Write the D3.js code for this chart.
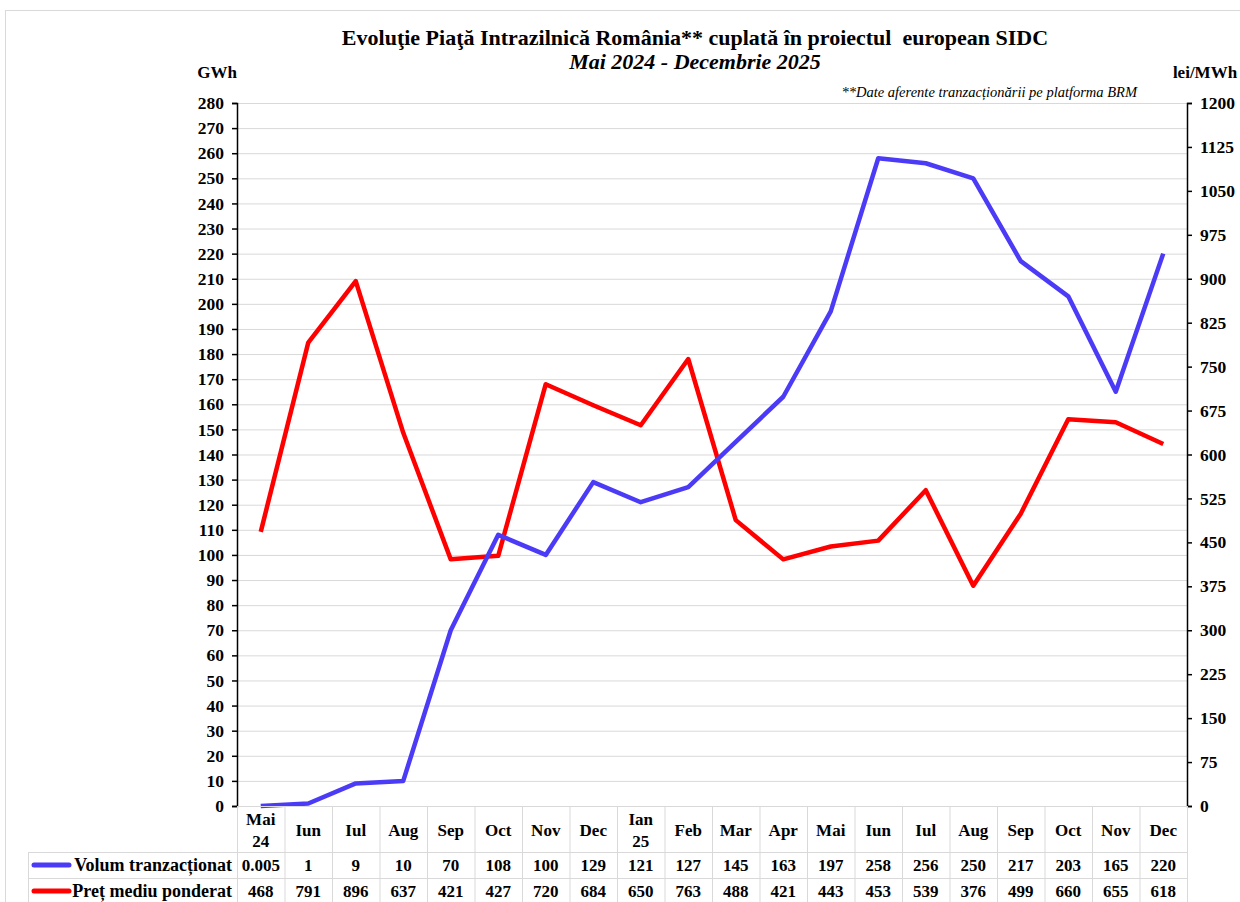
<!DOCTYPE html>
<html><head><meta charset="utf-8">
<script src="https://cdn.jsdelivr.net/npm/d3@7"></script>
<style>body{margin:0;background:#fff}svg{display:block}text{font-family:"Liberation Serif","Times New Roman",serif;font-weight:bold;fill:#000}</style>
</head><body>
<script>
const categories = [["Mai","24"],["Iun"],["Iul"],["Aug"],["Sep"],["Oct"],["Nov"],["Dec"],["Ian","25"],["Feb"],["Mar"],["Apr"],["Mai"],["Iun"],["Iul"],["Aug"],["Sep"],["Oct"],["Nov"],["Dec"]];
const volume = [0.005,1,9,10,70,108,100,129,121,127,145,163,197,258,256,250,217,203,165,220];
const volumeLabels = ["0.005","1","9","10","70","108","100","129","121","127","145","163","197","258","256","250","217","203","165","220"];
const price = [468,791,896,637,421,427,720,684,650,763,488,421,443,453,539,376,499,660,655,618];
const leftTicks = d3.range(0,281,10);
const rightTicks = d3.range(0,1201,75);
const seriesNames = ["Volum tranzacționat","Preț mediu ponderat"];
const colors = ["#4B3BF7","#FF0000"];

const W=1240,H=902;
const L=237,R=1187,T=103,B=806;
const FONT='"Liberation Serif","Times New Roman",serif';
const svg=d3.select("body").append("svg").attr("width",W).attr("height",H);
svg.append("rect").attr("x",5.5).attr("y",10.5).attr("width",1240).attr("height",900).attr("fill","none").attr("stroke","#d9d9d9");

const x=d3.scaleBand().domain(d3.range(categories.length)).range([L,R]);
const yL=d3.scaleLinear().domain([0,280]).range([B,T]);
const yR=d3.scaleLinear().domain([0,1200]).range([B,T]);

// grid
svg.append("g").selectAll("line").data(leftTicks.filter(d=>d>0)).join("line")
 .attr("x1",L).attr("x2",R).attr("y1",d=>yL(d)+0.5).attr("y2",d=>yL(d)+0.5).attr("stroke","#d9d9d9");

// axes
const gl=svg.append("g").attr("transform",`translate(${L},0)`).call(d3.axisLeft(yL).tickValues(leftTicks).tickFormat(d3.format("d")).tickSize(5).tickPadding(8));
const gr=svg.append("g").attr("transform",`translate(${R},0)`).call(d3.axisRight(yR).tickValues(rightTicks).tickFormat(d3.format("d")).tickSize(5).tickPadding(8));
[gl,gr].forEach(g=>{g.attr("font-family",FONT).attr("font-size",17.5).attr("font-weight","bold");
 g.selectAll("text").attr("font-family",FONT).attr("font-size",17.5);
 g.selectAll("line,path").attr("stroke","#000").attr("stroke-width",1.5);});

// lines
const line=(ys,data)=>d3.line().x((d,i)=>x(i)+x.bandwidth()/2).y(d=>ys(d))(data);
svg.append("path").attr("d",line(yR,price)).attr("fill","none").attr("stroke",colors[1]).attr("stroke-width",4.5).attr("stroke-linejoin","round");
svg.append("path").attr("d",line(yL,volume)).attr("fill","none").attr("stroke",colors[0]).attr("stroke-width",4.5).attr("stroke-linejoin","round");

// table
const tb=svg.append("g");
const r1=852,r2=878,r3=904,tl=28;
const gridC="#d9d9d9";
tb.append("line").attr("x1",L).attr("x2",R).attr("y1",B+0.5).attr("y2",B+0.5).attr("stroke",gridC);
[r1,r2].forEach(y=>tb.append("line").attr("x1",tl).attr("x2",R).attr("y1",y+0.5).attr("y2",y+0.5).attr("stroke",gridC));
tb.selectAll(".v").data(d3.range(categories.length+1)).join("line")
 .attr("x1",i=>(i<categories.length?x(i):R)+0.5).attr("x2",i=>(i<categories.length?x(i):R)+0.5).attr("y1",B).attr("y2",r3).attr("stroke",gridC);
tb.append("line").attr("x1",tl+0.5).attr("x2",tl+0.5).attr("y1",r1).attr("y2",r3).attr("stroke",gridC);

categories.forEach((c,i)=>{
  const cx=x(i)+x.bandwidth()/2;
  const t=tb.append("text").attr("x",cx).attr("text-anchor","middle").style("font-size","17px");
  if(c.length===1){t.attr("y",836).text(c[0]);}
  else{t.append("tspan").attr("x",cx).attr("y",825).text(c[0]);t.append("tspan").attr("x",cx).attr("y",847).text(c[1]);}
  tb.append("text").attr("x",cx).attr("y",871).attr("text-anchor","middle").style("font-size","17px").text(volumeLabels[i]);
  tb.append("text").attr("x",cx).attr("y",897).attr("text-anchor","middle").style("font-size","17px").text(price[i]);
});
[[865,0],[891,1]].forEach(([y,k])=>{
  tb.append("line").attr("x1",34).attr("x2",69).attr("y1",y).attr("y2",y).attr("stroke",colors[k]).attr("stroke-width",5).attr("stroke-linecap","round");
  tb.append("text").attr("x",232).attr("y",y+6).attr("text-anchor","end").style("font-size","18px").text(seriesNames[k]);
});

// titles
svg.append("text").attr("x",695).attr("y",45).attr("text-anchor","middle").style("font-size","22px").style("white-space","pre").text("Evoluţie Piaţă Intrazilnică România** cuplată în proiectul  european SIDC");
svg.append("text").attr("x",695).attr("y",69).attr("text-anchor","middle").style("font-size","22px").style("font-style","italic").text("Mai 2024 - Decembrie 2025");
svg.append("text").attr("x",1137).attr("y",97).attr("text-anchor","end").style("font-size","14.5px").style("font-style","italic").style("font-weight","normal").text("**Date aferente tranzacționării pe platforma BRM");
svg.append("text").attr("x",217).attr("y",78).attr("text-anchor","middle").style("font-size","17px").text("GWh");
svg.append("text").attr("x",1205).attr("y",78).attr("text-anchor","middle").style("font-size","17px").text("lei/MWh");
</script>
</body></html>
